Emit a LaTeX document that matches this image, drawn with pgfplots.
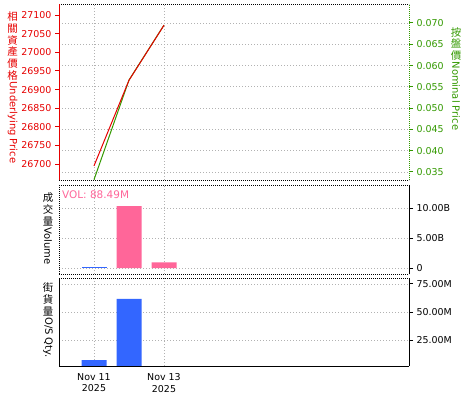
\documentclass[border=0pt]{standalone}
\usepackage{pgfplots}
\pgfplotsset{compat=1.18}
\usepackage{graphicx}
\usepackage{fontspec}
\setmainfont{DejaVu Sans}
\newfontfamily\cjk{Noto Sans CJK TC}

\definecolor{ured}{RGB}{230,0,0}
\definecolor{ngreen}{RGB}{51,153,0}
\definecolor{vpink}{RGB}{255,102,153}
\definecolor{qblue}{RGB}{51,102,255}
\definecolor{gridc}{RGB}{178,178,178}

\tikzset{dotb/.style={line width=1bp, dash pattern=on 1bp off 1bp},
  cjkstack/.style={anchor=north, align=center, inner sep=0pt, font=\cjk\fontsize{10.5}{11.7}\selectfont},
  latlab/.style={rotate=-90, anchor=west, inner sep=0pt, font=\fontsize{10}{12}\selectfont}}
\pgfplotsset{
  base/.style={
    scale only axis, width=350bp,
    xmin=10, xmax=20, xtick={11,13},
    xmajorgrids,
    grid style={gridc, line width=0.8bp, dash pattern=on 1bp off 2bp},
    axis line style={draw=none},
    tick label style={font=\fontsize{9.5}{11.5}\selectfont},
    /pgf/number format/assume math mode=true,
    xtick style={draw=none},
    major tick length=4bp, tick align=outside,
    clip mode=individual,
  },
}

\begin{document}
\begin{tikzpicture}
\path[use as bounding box] (0,0) rectangle (475bp,-400bp);

% ---------- Panel 1: nominal price (right axis, grid) ----------
\begin{axis}[base, at={(59bp,-4bp)}, anchor=north west, height=176bp,
  ymin=0.03312, ymax=0.07446,
  ytick={0.035,0.040,0.045,0.050,0.055,0.060,0.065,0.070},
  yticklabels={0.035,0.040,0.045,0.050,0.055,0.060,0.065,0.070},
  ytick pos=right, yticklabel pos=right,
  ymajorgrids,
  xticklabels={},
  yticklabel style={ngreen},
  ytick style={ngreen, line width=1bp},
  after end axis/.code={
    \draw[dotb, black] (rel axis cs:0,1) -- (rel axis cs:1,1);
    \draw[dotb, black] (rel axis cs:0,0) -- (rel axis cs:1,0);
    \draw[dotb, ngreen] (rel axis cs:1,0) -- (rel axis cs:1,1);
  }]
\addplot[ngreen, line width=1bp] coordinates {(11,0.0332) (12,0.0566) (13,0.0695)};
\end{axis}

% ---------- Panel 1: underlying price (left axis) ----------
\begin{axis}[base, at={(59bp,-4bp)}, anchor=north west, height=176bp,
  ymin=26657, ymax=27130,
  ytick={26700,26750,26800,26850,26900,26950,27000,27050,27100},
  yticklabels={26700,26750,26800,26850,26900,26950,27000,27050,27100},
  ytick pos=left,
  xmajorgrids=false,
  xticklabels={},
  yticklabel style={ured},
  ytick style={ured, line width=1bp},
  after end axis/.code={
    \draw[ured, line width=1bp] (rel axis cs:0,0) -- (rel axis cs:0,1);
  }]
\addplot[ured, line width=1bp] coordinates {(11,26695) (12,26925) (13,27073)};
\end{axis}

% ---------- Panel 2: volume ----------
\begin{axis}[base, at={(59bp,-185bp)}, anchor=north west, height=89bp,
  ymin=-1, ymax=13.9,
  ytick={0,5,10}, yticklabels={0,5.00B,10.00B},
  ytick pos=right, yticklabel pos=right,
  ymajorgrids,
  xticklabels={},
  ytick style={black, line width=1bp},
  ybar, bar width=25bp, bar shift=0pt,
  after end axis/.code={
    \draw[dotb, black] (rel axis cs:0,1) -- (rel axis cs:1,1);
    \draw[dotb, black] (rel axis cs:0,0) -- (rel axis cs:1,0);
    \draw[dotb, black] (rel axis cs:0,0) -- (rel axis cs:0,1);
    \draw[black, line width=1bp] (rel axis cs:1,0) -- (rel axis cs:1,1);
  }]
\addplot[fill=qblue, draw=none] coordinates {(11,0.16)};
\addplot[fill=vpink, draw=none] coordinates {(12,10.38) (13,0.93)};
\end{axis}

% ---------- Panel 3: O/S quantity ----------
\begin{axis}[base, at={(59bp,-278bp)}, anchor=north west, height=88bp,
  ymin=2.2, ymax=80.3,
  ytick={25,50,75}, yticklabels={25.00M,50.00M,75.00M},
  ytick pos=right, yticklabel pos=right,
  ymajorgrids,
  xticklabels={Nov 11\\2025, Nov 13\\2025},
  xticklabel style={align=center},
  ytick style={black, line width=1bp},
  ybar, bar width=25bp, bar shift=0pt,
  after end axis/.code={
    \draw[dotb, black] (rel axis cs:0,1) -- (rel axis cs:1,1);
    \draw[black, line width=1bp] (rel axis cs:0,0) -- (rel axis cs:1,0);
    \draw[black, line width=1bp] (rel axis cs:0,0) -- (rel axis cs:0,1);
    \draw[black, line width=1bp] (rel axis cs:1,0) -- (rel axis cs:1,1);
  }]
\addplot[fill=qblue, draw=none] coordinates {(11,7.5) (12,61.8)};
\end{axis}

% ---------- labels ----------
\node[cjkstack, ured] (l1) at (12.5bp,-12bp) {相\\關\\資\\產\\價\\格};
\node[latlab, ured] at ([yshift=-1bp]l1.south) {Underlying Price};
\node[cjkstack, ngreen] (l2) at (456bp,-27bp) {按\\盤\\價};
\node[latlab, ngreen] at ([yshift=-1bp]l2.south) {Nominal Price};
\node[cjkstack, black] (l3) at (48bp,-193bp) {成\\交\\量};
\node[latlab, black] at ([yshift=-1bp]l3.south) {Volume};
\node[cjkstack, black] (l4) at (48bp,-283bp) {街\\貨\\量};
\node[latlab, black] at ([yshift=-1bp]l4.south) {O/S Qty.};
\node[anchor=west, vpink, font=\fontsize{10.5}{12}\selectfont, inner sep=0pt] at (62bp,-195bp) {VOL: 88.49M};
\end{tikzpicture}
\end{document}
